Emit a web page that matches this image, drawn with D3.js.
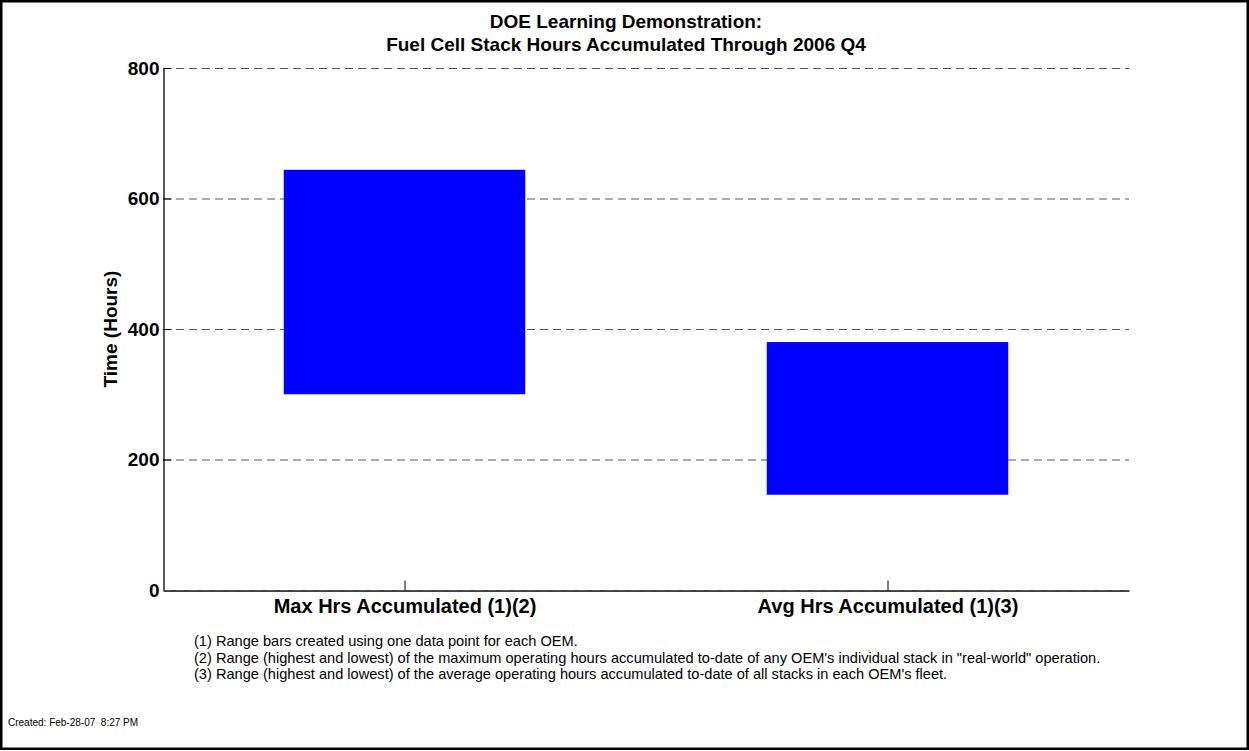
<!DOCTYPE html>
<html><head><meta charset="utf-8">
<script src="https://cdn.jsdelivr.net/npm/d3@7"></script>
<style>
body{margin:0;background:#fff}
svg{display:block}
text{font-family:Arial,"Liberation Sans",Helvetica,sans-serif}
</style>
</head><body>
<svg id="c" width="1249" height="751"></svg>
<script>
const categories = ["Max Hrs Accumulated (1)(2)", "Avg Hrs Accumulated (1)(3)"];
const rangeLow = [300, 146];
const rangeHigh = [644, 380];
const yTicks = [0, 200, 400, 600, 800];
const titleLines = ["DOE Learning Demonstration:", "Fuel Cell Stack Hours Accumulated Through 2006 Q4"];
const yLabel = "Time (Hours)";
const footnotes = [
  "(1) Range bars created using one data point for each OEM.",
  "(2) Range (highest and lowest) of the maximum operating hours accumulated to-date of any OEM's individual stack in \"real-world\" operation.",
  "(3) Range (highest and lowest) of the average operating hours accumulated to-date of all stacks in each OEM's fleet."
];
const createdNote = "Created: Feb-28-07  8:27 PM";

const svg = d3.select("#c");
const W = 1249, H = 751;
const L = 163, R = 1129, T = 68, B = 590;

const x = d3.scaleLinear().domain([0.5, 2.5]).range([L, R]);
const y = d3.scaleLinear().domain([0, 800]).range([B, T]);
const barW = 0.5;

// frame
svg.append("rect").attr("x", 1.25).attr("y", 1.25).attr("width", W - 2.5).attr("height", H - 3.5)
  .attr("fill", "#fff").attr("stroke", "#000").attr("stroke-width", 2.5);

// grid
svg.append("g").selectAll("line").data(yTicks.filter(d => d > 0)).join("line")
  .attr("x1", L).attr("x2", R).attr("y1", d => y(d) + 0.5).attr("y2", d => y(d) + 0.5)
  .attr("stroke", "#555").attr("stroke-width", 1).attr("stroke-dasharray", "8,5");

// bars
const data = categories.map((c, i) => ({c, i: i + 1, lo: rangeLow[i], hi: rangeHigh[i]}));
svg.append("g").selectAll("rect").data(data).join("rect")
  .attr("x", d => x(d.i - barW / 2)).attr("width", d => x(d.i + barW / 2) - x(d.i - barW / 2))
  .attr("y", d => y(d.hi)).attr("height", d => y(d.lo) - y(d.hi))
  .attr("fill", "#0000ff");

// y axis
const ya = svg.append("g").attr("transform", `translate(${L + 0.5},0)`)
  .call(d3.axisLeft(y).tickValues(yTicks).tickFormat(d3.format("d")).tickSizeInner(-8).tickSizeOuter(0).tickPadding(4));
ya.select(".domain").attr("stroke", "#000").attr("stroke-width", 1.3);
ya.selectAll(".tick line").attr("stroke", "#000");
ya.selectAll("text").attr("font-size", 19).attr("font-weight", "bold").attr("fill", "#000")
  .attr("font-family", "Arial, 'Liberation Sans', sans-serif");

// x axis
const xa = svg.append("g").attr("transform", `translate(0,${B + 0.5})`)
  .call(d3.axisBottom(x).tickValues(data.map(d => d.i)).tickFormat(i => categories[i - 1]).tickSizeInner(-10).tickSizeOuter(0).tickPadding(8));
xa.select(".domain").attr("stroke", "#000").attr("stroke-width", 1.3);
xa.selectAll(".tick line").attr("stroke", "#000");
xa.selectAll("text").attr("font-size", 20).attr("font-weight", "bold").attr("fill", "#000")
  .attr("font-family", "Arial, 'Liberation Sans', sans-serif");

// zero grid line over axis
svg.append("line").attr("x1", L).attr("x2", R).attr("y1", y(0) + 0.5).attr("y2", y(0) + 0.5)
  .attr("stroke", "#555").attr("stroke-width", 1).attr("stroke-dasharray", "8,5");

// title
svg.append("g").selectAll("text").data(titleLines).join("text")
  .attr("x", 626).attr("y", (d, i) => 28 + i * 23)
  .attr("text-anchor", "middle").attr("font-size", 19).attr("font-weight", "bold").attr("fill", "#000")
  .text(d => d);

// y label
svg.append("text").attr("transform", `translate(117,${(T + B) / 2}) rotate(-90)`)
  .attr("text-anchor", "middle").attr("font-size", 19).attr("font-weight", "bold").attr("fill", "#000")
  .text(yLabel);

// footnotes
svg.append("g").selectAll("text").data(footnotes).join("text")
  .attr("x", 194).attr("y", (d, i) => 646 + i * 16.5)
  .attr("font-size", 14.6).attr("fill", "#000")
  .text(d => d);

// created note
svg.append("text").attr("x", 8).attr("y", 726).attr("font-size", 10).attr("fill", "#000")
  .style("white-space", "pre").text(createdNote);
</script>
</body></html>
